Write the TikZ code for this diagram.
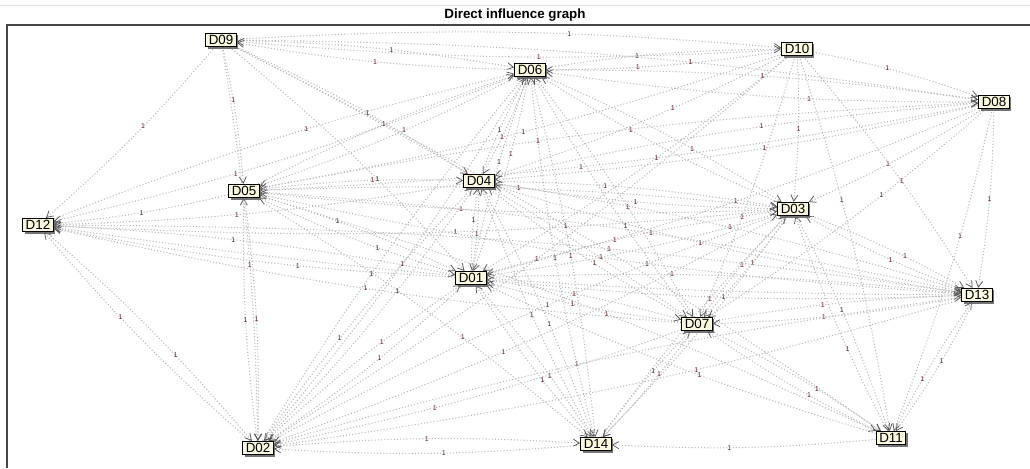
\documentclass[tikz,border=0pt]{standalone}
\usepackage{fontspec}
\setmainfont{Liberation Sans}
\setsansfont{Liberation Sans}
\usetikzlibrary{arrows.meta, shadows, backgrounds}
\definecolor{boxfill}{RGB}{250,248,222}
\definecolor{lblred}{RGB}{100,30,30}

\begin{document}
\begin{tikzpicture}[x=0.025cm, y=-0.025cm,
dbox/.style={rectangle, draw=black, line width=0.6pt, fill=boxfill, inner xsep=2.2pt, inner ysep=1.4pt, font=\sffamily\fontsize{9.5}{9.5}\selectfont, drop shadow={shadow xshift=1.4pt, shadow yshift=-1.4pt, fill=black!60, opacity=0.9}},
link/.style={draw=gray!55, line width=0.75pt, dash pattern=on 0.75pt off 1.5pt, bend left=4, -{Straight Barb[length=4.5pt, width=5pt, line width=0.55pt, color=gray!70!black]}},
elabel/.style={font=\sffamily\fontsize{5}{5}\selectfont, text=lblred, inner sep=0.5pt}]
\useasboundingbox (0,0) rectangle (1030,468);
% frame and title
\draw[gray!25] (0,5) -- (1030,5);
\draw[gray!55!black, line width=1pt] (7,468) -- (7,25) -- (1030,25);
\node (title) at (515,15) {\fontsize{9.5}{9.5}\selectfont\bfseries Direct influence graph};
% variables
\node (d09) [dbox] at (221,40) {D09};
\node (d10) [dbox] at (797,49) {D10};
\node (d06) [dbox] at (530,70) {D06};
\node (d08) [dbox] at (994,102) {D08};
\node (d04) [dbox] at (479,181) {D04};
\node (d05) [dbox] at (244,191) {D05};
\node (d03) [dbox] at (793,209) {D03};
\node (d12) [dbox] at (38,225) {D12};
\node (d01) [dbox] at (471,278) {D01};
\node (d13) [dbox] at (977,295) {D13};
\node (d07) [dbox] at (697,324) {D07};
\node (d02) [dbox] at (258,448) {D02};
\node (d14) [dbox] at (596,444) {D14};
\node (d11) [dbox] at (891,438) {D11};
% influences
\begin{scope}[on background layer]
\foreach \s/\t [count=\i] in {09/12, 05/12, 04/12, 06/12, 01/12, 03/12, 07/12, 13/12, 02/12,
  09/05, 06/05, 10/05, 08/05, 03/05, 01/05, 13/05, 02/05,
  09/04, 06/04, 10/04, 08/04, 03/04, 05/04, 01/04, 02/04, 07/04, 14/04, 13/04,
  09/01, 06/01, 10/01, 08/01, 04/01, 03/01, 05/01, 12/01, 13/01, 07/01, 02/01, 14/01, 11/01,
  10/03, 08/03, 06/03, 04/03, 01/03, 07/03, 02/03, 14/03, 11/03, 13/03, 05/03,
  06/07, 10/07, 08/07, 03/07, 09/07, 13/07, 14/07, 11/07, 01/07,
  08/13, 10/13, 03/13, 01/13, 07/13, 04/13, 05/13, 12/13, 11/13, 02/13,
  06/14, 04/14, 01/14, 07/14, 03/14, 02/14, 11/14, 05/14,
  10/11, 03/11, 09/11, 05/11, 07/11, 08/11, 13/11,
  05/02, 09/02, 12/02, 04/02, 01/02, 06/02, 03/02, 07/02, 13/02, 14/02, 10/02,
  09/06, 10/06, 08/06, 04/06, 05/06, 01/06, 03/06, 07/06, 02/06, 14/06, 12/06,
  09/10, 06/10, 10/08, 06/08, 04/08, 09/08, 05/08, 10/09, 06/09}
{
  \pgfmathsetmacro\p{0.38+0.06*mod(\i,5)}
  \draw[link] (d\s) to node[elabel, pos=\p] {1} (d\t);
}
\end{scope}
\end{tikzpicture}
\end{document}
